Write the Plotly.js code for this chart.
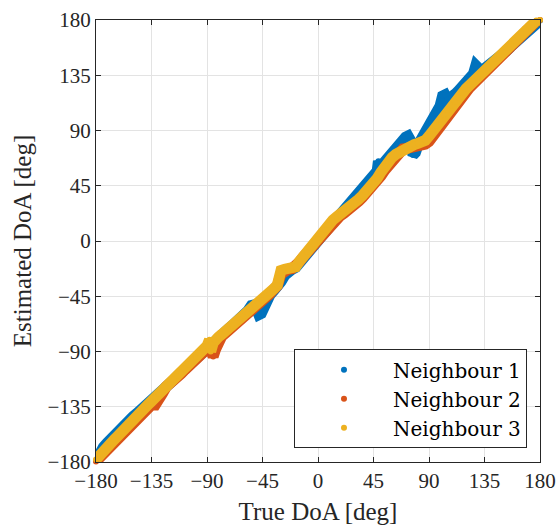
<!DOCTYPE html>
<html>
<head>
<meta charset="utf-8">
<script src="https://cdn.plot.ly/plotly-3.0.1.min.js"></script>
<style>
  html, body { margin: 0; padding: 0; background: #fff; }
  #chart { width: 559px; height: 529px; }
</style>
</head>
<body>
<div id="chart"></div>
<script>
// True vs estimated direction of arrival (degrees) for three neighbours
const trueDoA1 = [-180,-177,-174,-171,-168,-165,-162,-159,-156,-153,-150,-147,-144,-141,-138,-135,-132,-129,-126,-123,-120,-117,-114,-111,-108,-105,-102,-99,-96,-93,-90,-87,-84,-81,-78,-75,-72,-69,-66,-63,-60,-57,-54,-52,-50,-48,-46,-44,-42,-39,-36,-33,-30,-27,-24,-21,-18,-15,-12,-9,-6,-3,0,3,6,9,12,15,18,21,24,27,30,33,36,39,42,45,48,49,51,54,57,60,63,65,67,69,71,73,75,77,79,81,84,87,90,93,96,99,101,103,105,108,111,114,117,120,123,126,128,130,132,135,138,141,144,147,150,153,156,159,162,165,168,171,174,177,180];
const estDoA1 = [-179,-172,-168,-164.5,-161,-158,-154.5,-151.5,-148.5,-145.5,-143,-140.5,-138,-135.5,-133,-130.5,-128,-125,-122,-119,-116,-113,-110,-107,-104,-101,-98,-95,-92,-89,-86,-83,-80.5,-78,-76,-73.5,-71,-68.5,-66,-63,-60,-57,-52.5,-52,-55,-60,-59,-53,-48,-44,-40.5,-37.5,-33,-28,-24.5,-23,-21.5,-17.5,-13.5,-10,-6.5,-3,0,3.5,7,11,14.5,18,21,24,27.5,31,35,38.5,42.5,46,49.5,53,57,65,60,64.5,68.5,72.5,76,79,81,83,84.5,85.5,82,70,72,78,83,88,93,98,104,110,118,119,115,116.5,119.5,122.5,125.5,129,132,136,143,140,139,140.5,142.5,144.5,147,149.5,152,155,158,161,164,167,170,173,175.5,178,179.5];

const trueDoA2 = [-180,-177,-174,-171,-168,-165,-162,-159,-156,-153,-150,-147,-144,-141,-138,-135,-132,-129,-126,-123,-120,-117,-114,-111,-108,-105,-102,-99,-96,-93,-90,-87,-85,-83,-81,-78,-75,-72,-69,-66,-63,-60,-57,-54,-51,-48,-45,-42,-39,-36,-33,-30,-27,-24,-21,-18,-15,-12,-9,-6,-3,0,3,6,9,12,15,18,21,24,27,30,33,36,39,42,45,48,51,54,57,60,63,66,69,72,75,78,81,84,87,90,93,96,99,102,105,108,111,114,117,120,123,126,129,132,135,138,141,144,147,150,153,156,159,162,165,168,171,174,177,180];
const estDoA2 = [-179.5,-176.5,-173,-169.5,-166,-163,-159.5,-156.5,-153,-150,-147,-144,-141,-138,-135.5,-133.5,-133.5,-130,-124,-118.5,-116.5,-113.5,-111,-108,-105,-102,-98.5,-95.5,-92.5,-89.5,-88,-89,-94,-88,-81,-77.5,-75,-72.5,-70,-67.5,-64.5,-62,-59.5,-57,-54.5,-52,-49.5,-46.5,-43,-39.5,-36.5,-27,-24,-23,-22.5,-20.5,-17,-13,-9.5,-6,-2.5,0.5,4,8,12,15.5,18.5,20.5,22.5,24.5,26.5,29.5,32.5,35.5,38.5,41,44.5,48.5,53,57.5,61.5,65,69,73,75,75.5,76,76,76.5,77.5,79,81,85,90.5,96,100,104,107.5,111,114.5,118,121.5,125,128,131,134,137,140,143,146.5,149.5,152.5,155.5,159,162.5,166.5,170,173,175.5,177.5,179,180];

const trueDoA3 = [-180,-177,-174,-171,-168,-165,-162,-159,-156,-153,-150,-147,-144,-141,-138,-135,-132,-129,-126,-123,-120,-117,-114,-111,-108,-105,-102,-99,-96,-93,-90,-88,-87,-85,-84,-81,-78,-75,-72,-69,-66,-63,-60,-57,-54,-51,-48,-45,-42,-39,-36,-33,-32,-30,-27,-24,-21,-18,-15,-12,-9,-6,-3,0,3,6,9,12,15,18,21,24,27,30,33,36,39,42,45,48,51,54,57,60,63,66,69,72,75,78,81,84,87,90,93,96,99,102,105,108,111,114,117,120,123,126,129,132,135,138,141,144,147,150,153,156,159,162,165,168,171,174,177,180];
const estDoA3 = [-178,-174,-171,-168,-164.5,-161.5,-158.5,-155,-152,-149,-146,-143,-140,-137,-133.5,-130.5,-127.5,-124.5,-121.5,-118.5,-116,-113,-110,-107,-104,-100.5,-97.5,-94.5,-91.5,-88.5,-85.5,-80.5,-90,-83,-80.5,-78.5,-76,-73.5,-71.5,-69,-66.5,-63.5,-61,-58.5,-56,-53.5,-51,-48.5,-45.5,-42.5,-39,-36,-26,-24,-23,-22.5,-22.5,-21,-16.5,-12.5,-9,-5.5,-2,1.5,5,9,13,17,19.5,21.5,23.5,25.5,28,31,34,37,40,43,47,51,56,61,65,68,70.5,72.5,74,75.5,77,78.5,79.5,80.5,82,85.5,89.5,94,99,103,107,110.5,113.5,117,120.5,124,127,130,133,136,139,142,145.5,148.5,151.5,154.5,157.5,160.5,163.5,166.5,169.5,172.5,175.5,178,179.5,180];

const seriesNames = ['Neighbour 1', 'Neighbour 2', 'Neighbour 3'];
const seriesColors = ['#0072BD', '#D95319', '#EDB120'];
const tickVals = [-180, -135, -90, -45, 0, 45, 90, 135, 180];

const xs = [trueDoA1, trueDoA2, trueDoA3];
const ys = [estDoA1, estDoA2, estDoA3];

const FONT = '"Liberation Serif", "Times New Roman", "DejaVu Serif", serif';
const LEGEND_FONT = '"DejaVu Serif", "Liberation Serif", serif';
const INK = '#262626';

const traces = [];
for (let i = 0; i < 3; i++) {
  // thick stroke through the estimates so the point cloud reads as a dense band
  traces.push({
    type: 'scatter', mode: 'lines', x: xs[i], y: ys[i],
    line: { color: seriesColors[i], width: 11 },
    showlegend: false, hoverinfo: 'skip'
  });
  traces.push({
    type: 'scatter', mode: 'markers', x: xs[i], y: ys[i], name: seriesNames[i],
    marker: { color: seriesColors[i], size: 6 },
    cliponaxis: false
  });
}

const axisCommon = {
  range: [-180, 180], tickmode: 'array', tickvals: tickVals,
  showgrid: true, gridcolor: '#e3e3e3', gridwidth: 1, zeroline: false,
  showline: true, linecolor: INK, linewidth: 1, mirror: 'ticks',
  ticks: 'inside', ticklen: 5, tickcolor: INK, tickwidth: 1,
  tickfont: { size: 21, color: INK }
};

const layout = {
  width: 559, height: 529,
  margin: { l: 96, r: 19, t: 20, b: 67 },
  paper_bgcolor: '#fff', plot_bgcolor: '#fff',
  font: { family: FONT, color: INK },
  xaxis: Object.assign({}, axisCommon, {
    title: { text: 'True DoA [deg]', font: { size: 25, color: INK }, standoff: 10 }
  }),
  yaxis: Object.assign({}, axisCommon, {
    title: { text: 'Estimated DoA [deg]', font: { size: 25, color: INK }, standoff: 8 }
  }),
  legend: {
    x: 0.9707, xanchor: 'right', y: 0.031, yanchor: 'bottom',
    bgcolor: '#fff', bordercolor: INK, borderwidth: 1,
    font: { family: LEGEND_FONT, size: 20, color: '#000' },
    itemwidth: 88
  },
  showlegend: true
};

Plotly.newPlot('chart', traces, layout, { displayModeBar: false, staticPlot: true });
</script>
</body>
</html>
